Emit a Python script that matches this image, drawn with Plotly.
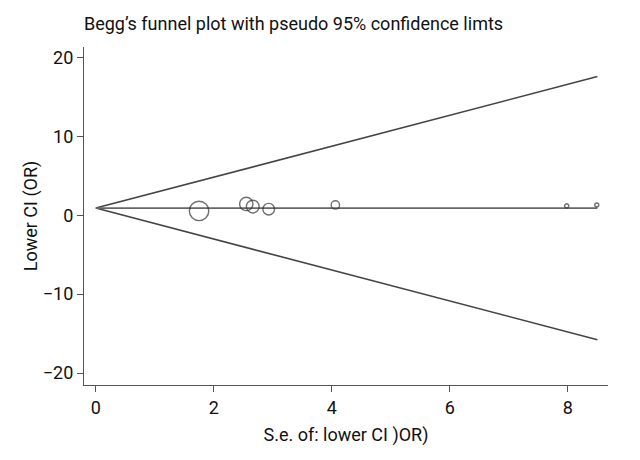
import numpy as np
import plotly.graph_objects as go

# Study data
se_lower = [1.75, 2.55, 2.66, 2.93, 4.06, 7.98, 8.49]
lower_ci = [0.54, 1.43, 1.09, 0.76, 1.30, 1.18, 1.30]
pooled = 0.9
se_max = 8.5

x_ticks = [0, 2, 4, 6, 8]
y_ticks = [-20, -10, 0, 10, 20]
y_ticktext = ["\u221220", "\u221210", "0", "10", "20"]

FONT = "Roboto"
LINE = "#444444"

se_line = np.array([0.0, se_max])
upper = pooled + 1.96 * se_line
lower = pooled - 1.96 * se_line

se_arr = np.array(se_lower)
sizes = 34.0 / se_arr  # symbol size inversely proportional to s.e.

fig = go.Figure()
fig.add_trace(go.Scatter(x=se_line, y=upper, mode="lines",
                         line=dict(color=LINE, width=1.6), showlegend=False))
fig.add_trace(go.Scatter(x=se_line, y=lower, mode="lines",
                         line=dict(color=LINE, width=1.6), showlegend=False))
fig.add_trace(go.Scatter(x=se_line, y=[pooled, pooled], mode="lines",
                         line=dict(color="#666666", width=1.6), showlegend=False))
fig.add_trace(go.Scatter(x=se_lower, y=lower_ci, mode="markers",
                         marker=dict(size=sizes, symbol="circle-open",
                                     color="#333333", line=dict(width=1.4, color="#333333")),
                         showlegend=False))

# page body has an 8px margin, so the figure is drawn 8px in from the top-left
W, H = 632, 452
fig.update_layout(
    width=W, height=H,
    margin=dict(l=76, r=32, t=39, b=75),
    paper_bgcolor="white", plot_bgcolor="white",
    font=dict(family=FONT, size=17, color="#111111"),
    title=dict(text="Begg\u2019s funnel plot with pseudo 95% confidence limts",
               x=0.0, xref="paper", xanchor="left", y=1 - 16 / H, yref="container",
               yanchor="middle",
               font=dict(family=FONT, size=18, color="#111111")),
)
fig.update_xaxes(range=[-0.2, 8.68], tickvals=x_ticks, ticks="outside", ticklen=6,
                 tickcolor="#555555", tickwidth=1.2, showgrid=False, zeroline=False,
                 showline=True, linecolor="#555555", linewidth=1.3, automargin=False,
                 title=dict(text="S.e. of: lower CI )OR)", standoff=11,
                            font=dict(family=FONT, size=18)),
                 tickfont=dict(family=FONT, size=18))
fig.update_yaxes(range=[-21.5, 21.3], tickvals=y_ticks, ticktext=y_ticktext,
                 ticks="outside", ticklen=6,
                 tickcolor="#555555", tickwidth=1.2, showgrid=False, zeroline=False,
                 showline=True, linecolor="#555555", linewidth=1.3, automargin=False,
                 title=dict(text="Lower CI (OR)", standoff=0,
                            font=dict(family=FONT, size=18)),
                 tickfont=dict(family=FONT, size=18))

fig.write_html("out.html")
